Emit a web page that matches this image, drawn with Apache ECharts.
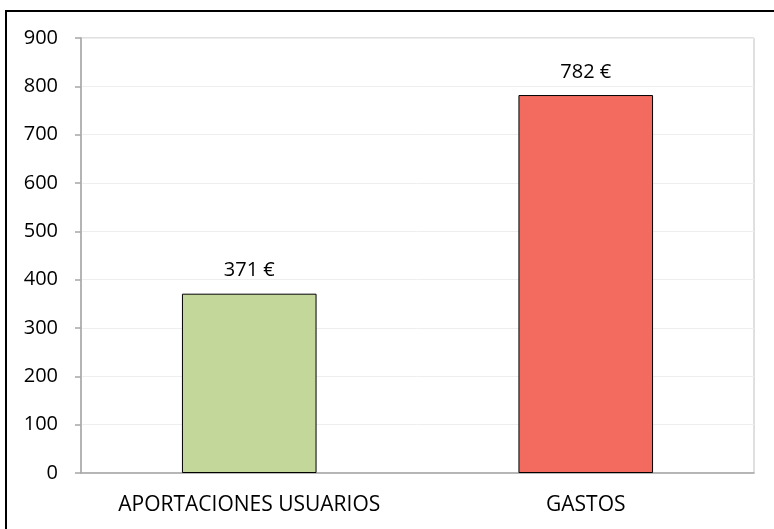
<!DOCTYPE html>
<html>
<head>
<meta charset="utf-8">
<script src="https://cdn.jsdelivr.net/npm/echarts@6/dist/echarts.min.js"></script>
<style>
  html, body { margin: 0; padding: 0; background: #fff; }
  #chart { width: 774px; height: 529px; }
</style>
</head>
<body>
<div id="chart"></div>
<script>
// Chart data
var categories = ['APORTACIONES USUARIOS', 'GASTOS'];
var amounts = [371, 782];
var barColors = ['#C4D79B', '#F36B5E'];
var yTicks = { min: 0, max: 900, step: 100 };

var chart = echarts.init(document.getElementById('chart'));
var font = '"Open Sans", "Noto Sans", sans-serif';

var option = {
    backgroundColor: '#ffffff',
    animation: false,
    textStyle: { fontFamily: font },
    graphic: [{
        type: 'rect',
        shape: { x: 6, y: 11, width: 800, height: 600 },
        style: { fill: 'none', stroke: '#000000', lineWidth: 2 },
        silent: true
    }],
    grid: {
        left: 81,
        top: 38,
        right: 20,
        bottom: 56,
        show: true,
        borderColor: '#c0c0c0',
        borderWidth: 1
    },
    xAxis: {
        type: 'category',
        data: categories,
        axisLine: { lineStyle: { color: '#a6a6a6', width: 1.5 } },
        axisTick: { length: 6, lineStyle: { color: '#a6a6a6', width: 1.5 } },
        axisLabel: {
            interval: 0, // always show both category names
            hideOverlap: false,
            color: '#000000',
            fontSize: 21,
            fontFamily: font,
            margin: 22
        },
        splitLine: { show: false }
    },
    yAxis: {
        type: 'value',
        min: yTicks.min,
        max: yTicks.max,
        interval: yTicks.step,
        axisLine: { show: true, lineStyle: { color: '#a6a6a6', width: 1.5 } },
        axisTick: { show: true, length: 6, lineStyle: { color: '#a6a6a6', width: 1.5 } },
        axisLabel: {
            color: '#000000',
            fontSize: 20,
            fontFamily: font,
            margin: 23
        },
        splitLine: { show: true, lineStyle: { color: '#eeeeee', width: 1 } }
    },
    series: [{
        type: 'bar',
        barWidth: '40%',
        data: amounts.map(function(v, i) {
            return {
                value: v,
                itemStyle: { color: barColors[i], borderColor: '#000000', borderWidth: 1 }
            };
        }),
        label: {
            show: true,
            position: 'top',
            distance: 13,
            color: '#000000',
            fontSize: 20,
            fontFamily: font,
            formatter: function(p) { return p.value + ' €'; }
        }
    }]
};

chart.setOption(option);
</script>
</body>
</html>
